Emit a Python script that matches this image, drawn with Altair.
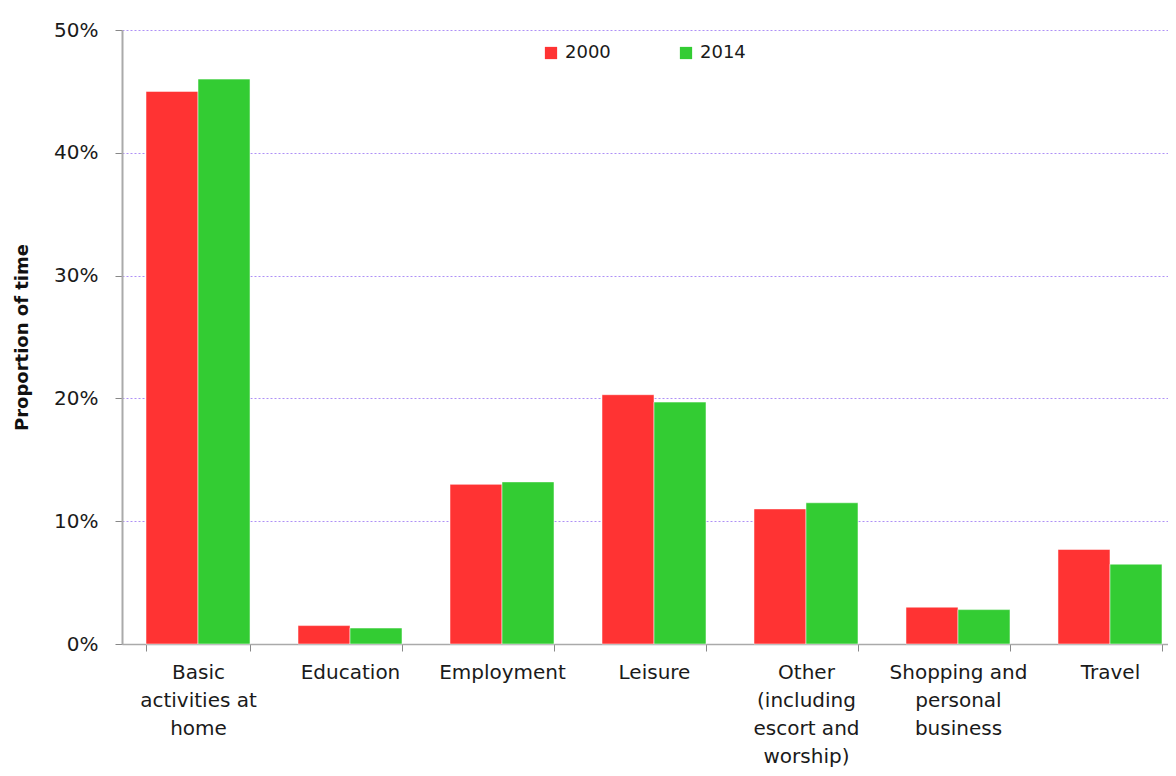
import altair as alt
import pandas as pd

categories = [
    "Basic\nactivities at\nhome",
    "Education",
    "Employment",
    "Leisure",
    "Other\n(including\nescort and\nworship)",
    "Shopping and\npersonal\nbusiness",
    "Travel",
]
years = ["2000", "2014"]
v2000 = [45.0, 1.5, 13.0, 20.3, 11.0, 3.0, 7.7]
v2014 = [46.0, 1.3, 13.2, 19.7, 11.5, 2.8, 6.5]
colors = ["#FF3333", "#33CC33"]

rows = []
for c, a, b in zip(categories, v2000, v2014):
    rows.append({"cat": c, "year": "2000", "val": a / 100})
    rows.append({"cat": c, "year": "2014", "val": b / 100})
df = pd.DataFrame(rows)

FONT = "DejaVu Sans"

chart = (
    alt.Chart(df)
    .mark_bar(stroke="white", strokeWidth=1, strokeOpacity=0.5)
    .encode(
        x=alt.X(
            "cat:N",
            sort=categories,
            title=None,
            scale=alt.Scale(range=[0, 1064], paddingInner=0.3158, paddingOuter=0.158),
            axis=alt.Axis(
                labelAngle=0,
                labelExpr="split(datum.label, '\\n')",
                labelLineHeight=28,
                labelFontSize=20,
                labelPadding=11,
                labelColor="#1a1a1a",
                labelLimit=300,
                tickBand="extent",
                tickSize=7,
                tickColor="#888888",
                domainColor="#aaaaaa",
                domainWidth=1.5,
                grid=False,
            ),
        ),
        xOffset=alt.XOffset("year:N", sort=years),
        y=alt.Y(
            "val:Q",
            title="Proportion of time",
            scale=alt.Scale(domain=[0, 0.5], nice=False),
            axis=alt.Axis(
                format=".0%",
                values=[0, 0.1, 0.2, 0.3, 0.4, 0.5],
                labelFontSize=20,
                labelPadding=17,
                labelColor="#1a1a1a",
                tickSize=7,
                tickColor="#888888",
                domainColor="#aaaaaa",
                domainWidth=2,
                grid=True,
                gridColor="#A07CF5",
                gridOpacity=0.85,
                gridDash=[2, 2],
                gridWidth=1,
                titleFontSize=18,
                titleFontWeight="bold",
                titleColor="#111111",
                titlePadding=22,
            ),
        ),
        color=alt.Color(
            "year:N",
            sort=years,
            scale=alt.Scale(domain=years, range=colors),
            legend=alt.Legend(
                title=None,
                orient="none",
                legendX=420,
                legendY=14,
                direction="horizontal",
                symbolType="square",
                symbolSize=150,
                symbolStrokeWidth=0,
                labelFontSize=18,
                labelColor="#1a1a1a",
                labelOffset=5,
                columnPadding=66,
            ),
        ),
    )
    .properties(
        width=1046,
        height=614,
        autosize=alt.AutoSizeParams(type="none"),
        padding={"left": 114, "top": 22, "right": 0, "bottom": 124},
    )
    .configure(font=FONT)
    .configure_view(stroke=None)
)

chart.save("out.html", embed_options={"renderer": "svg", "actions": False})
